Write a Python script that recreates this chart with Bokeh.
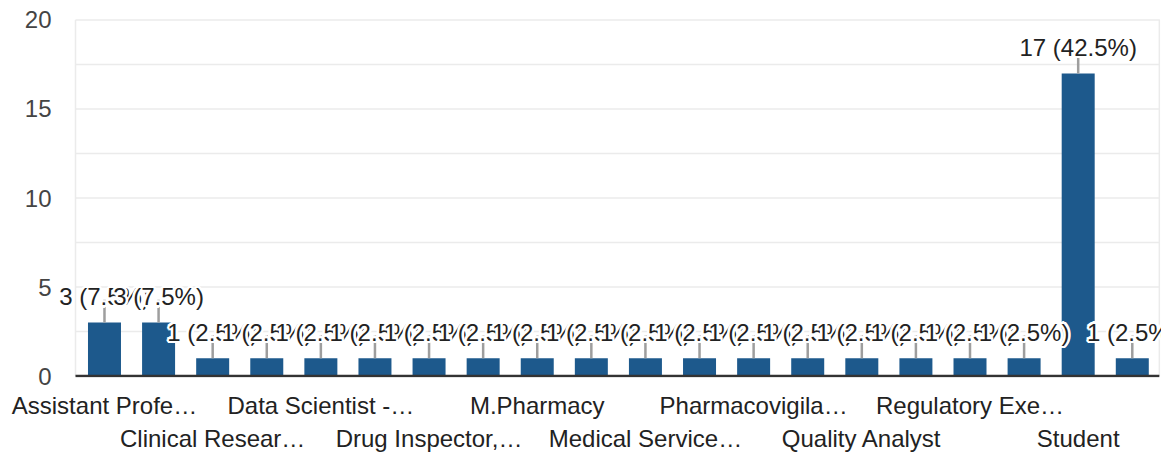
import math
from bokeh.plotting import figure
from bokeh.models import Range1d, LinearAxis, FixedTicker, Label
from bokeh.embed import file_html
from bokeh.resources import INLINE

# ---- data ----
categories = [
    "Assistant Profe…", "Business Development", "Clinical Resear…", "Community Pharmacist",
    "Data Scientist -…", "Drug Development", "Drug Inspector,…", "Hospital Pharmacist",
    "M.Pharmacy", "Medical Coder", "Medical Service…", "Pharmaceutical Sales",
    "Pharmacovigila…", "Production", "Quality Analyst", "Quality Control",
    "Regulatory Exe…", "Research Scientist", "Student", "Teacher",
]
counts = [3, 3, 1, 1, 1, 1, 1, 1, 1, 1, 1, 1, 1, 1, 1, 1, 1, 1, 17, 1]
y_ticks = [0, 5, 10, 15, 20]
y_grid = [2.5, 5, 7.5, 10, 12.5, 15, 17.5, 20]

total = sum(counts)
xs = list(range(len(categories)))
data_labels = [f"{c} ({c / total * 100:.1f}%)" for c in counts]

FONT = "Liberation Sans"
BAR = "#1d598c"
GRID = "#ebebeb"

# layout (pixels)
PX_PER_UNIT = 17.9          # y scale
SLOT = 54.1                 # x scale (pixels per category)
Y_MIN, Y_MAX = 0, 20
pad_y = 1.5 / PX_PER_UNIT
x_left_border = -0.536
x_right_border = 19.5
x_start = -0.961
x_end = 19.54

p = figure(width=1161, height=454,
           x_range=Range1d(x_start, x_end),
           y_range=Range1d(Y_MIN - pad_y, Y_MAX + pad_y),
           output_backend="svg", toolbar_location=None,
           min_border_left=52, min_border_right=0, min_border_top=18, min_border_bottom=75)
p.background_fill_color = "white"
p.border_fill_color = "white"
p.outline_line_color = None
p.xgrid.visible = False
p.ygrid.visible = False

# y axis
p.yaxis.ticker = FixedTicker(ticks=y_ticks)
p.yaxis.axis_line_color = None
p.yaxis.major_tick_line_color = None
p.yaxis.minor_tick_line_color = None
p.yaxis.major_tick_out = 0
p.yaxis.major_tick_in = 0
p.yaxis.major_label_standoff = 1
p.yaxis.major_label_text_font = FONT
p.yaxis.major_label_text_font_size = "24px"
p.yaxis.major_label_text_color = "#444444"

# x axes (two alternating rows)
row1 = [i for i in xs if i % 4 == 0]
row2 = [i for i in xs if i % 4 == 2]

ax1 = p.xaxis[0]
ax1.ticker = FixedTicker(ticks=row1)
ax1.major_label_overrides = {i: categories[i] for i in row1}
ax2 = LinearAxis(ticker=FixedTicker(ticks=row2),
                 major_label_overrides={i: categories[i] for i in row2})
p.add_layout(ax2, "below")

for ax in (ax1, ax2):
    ax.axis_line_color = None
    ax.major_tick_line_color = None
    ax.minor_tick_line_color = None
    ax.major_tick_out = 0
    ax.major_tick_in = 0
    ax.major_label_text_font = FONT
    ax.major_label_text_font_size = "24px"
    ax.major_label_text_color = "#222222"
ax1.major_label_standoff = 14
ax2.major_label_standoff = 3

# chart area frame and gridlines
p.segment(x0=[x_left_border] * len(y_grid), y0=y_grid,
          x1=[x_right_border + 0.5 / SLOT] * len(y_grid), y1=y_grid,
          line_color=GRID, line_width=1.5)
p.segment(x0=[x_left_border, x_right_border], y0=[Y_MIN, Y_MIN],
          x1=[x_left_border, x_right_border], y1=[Y_MAX, Y_MAX],
          line_color=GRID, line_width=1.5)

# bars
p.vbar(x=xs, top=counts, width=0.61, fill_color=BAR, line_color=None)

# baseline
p.segment(x0=[x_left_border], y0=[0], x1=[x_right_border], y1=[0],
          line_color="#333333", line_width=2.5)

# stems
stem_units = 23.0 / PX_PER_UNIT
p.segment(x0=xs, y0=counts, x1=xs, y1=[c + stem_units for c in counts],
          line_color="#9e9e9e", line_width=2.5)

# data labels with white halo, drawn in order so later ones overlap earlier ones
halo = [(0.0, 0.0)]
for r in (1.5, 2.5):
    for a in range(0, 360, 30):
        halo.append((r * math.cos(math.radians(a)), r * math.sin(math.radians(a))))

for i, c, t in zip(xs, counts, data_labels):
    for dx, dy in halo:
        p.add_layout(Label(x=i, y=c, x_offset=dx, y_offset=26 + dy, text=t,
                           text_align="center", text_baseline="alphabetic",
                           text_font=FONT, text_font_size="24px", text_color="white"))
    p.add_layout(Label(x=i, y=c, y_offset=26, text=t,
                       text_align="center", text_baseline="alphabetic",
                       text_font=FONT, text_font_size="24px", text_color="#222222"))

open("out.html", "w").write(file_html(p, INLINE))
